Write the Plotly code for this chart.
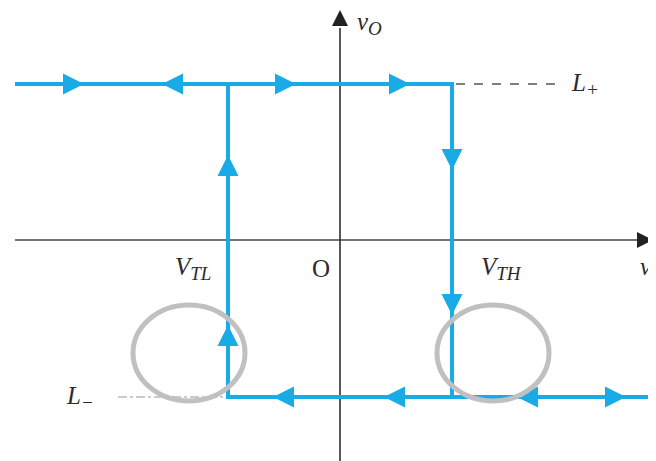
import plotly.graph_objects as go

# Пороги и уровни выхода (единицы = пиксели относительно начала координат)
V_TL = -112
V_TH = 112
L_PLUS = 156
L_MINUS = -157

X_LEFT = -325
X_RIGHT = 316
Y_TOP = 230
Y_BOTTOM = -229

# Стрелки направления обхода
top_arrows_x = [-256, -178, -44, 70]
top_arrows_dir = ["right", "left", "right", "right"]
bottom_arrows_x = [-67, 44, 177, 286]
bottom_arrows_dir = ["left", "left", "left", "right"]
left_up_y = [85, -85]
right_down_y = [70, -75]

# Выделенные области (серые кольца): центры и радиусы
ring_cx = [-151, 153]
ring_cy = [-113, -113]
ring_rx = [56, 56]
ring_ry = [48, 48]

BLUE = "#18abe6"
INK = "#2b2b2b"
SERIF = "Liberation Serif, Times New Roman, serif"


def lbl(main, sub=""):
    if not sub:
        return f"<i>{main}</i>"
    return f"<i>{main}<sub><span style='font-size:19px'>{sub}</span></sub></i>"


fig = go.Figure()

# оси
fig.add_trace(go.Scatter(x=[X_LEFT, X_RIGHT - 18], y=[0, 0], mode="lines",
                         line=dict(color="#444", width=1.5), hoverinfo="skip"))
fig.add_trace(go.Scatter(x=[0, 0], y=[Y_BOTTOM, Y_TOP - 18], mode="lines",
                         line=dict(color="#222", width=1.5), hoverinfo="skip"))
fig.add_trace(go.Scatter(x=[X_RIGHT - 3], y=[0], mode="markers",
                         marker=dict(symbol="arrow-right", size=16, color="#222"),
                         hoverinfo="skip"))
fig.add_trace(go.Scatter(x=[0], y=[Y_TOP], mode="markers",
                         marker=dict(symbol="arrow-up", size=16, color="#222"),
                         hoverinfo="skip"))

# пунктирные продолжения уровней
fig.add_trace(go.Scatter(x=[V_TH + 4, 219], y=[L_PLUS, L_PLUS], mode="lines",
                         line=dict(color="#555", width=1.5, dash="dash"), hoverinfo="skip"))
fig.add_trace(go.Scatter(x=[-222, V_TL - 2], y=[L_MINUS, L_MINUS], mode="lines",
                         line=dict(color="#bbb", width=1.5, dash="dashdot"), hoverinfo="skip"))

# петля гистерезиса
fig.add_trace(go.Scatter(x=[X_LEFT, V_TH, V_TH], y=[L_PLUS, L_PLUS, L_MINUS], mode="lines",
                         line=dict(color=BLUE, width=4), hoverinfo="skip"))
fig.add_trace(go.Scatter(x=[V_TL, V_TL, X_RIGHT + 10], y=[L_PLUS, L_MINUS, L_MINUS], mode="lines",
                         line=dict(color=BLUE, width=4), hoverinfo="skip"))

arr_x = (top_arrows_x + bottom_arrows_x + [V_TL] * len(left_up_y) + [V_TH] * len(right_down_y))
arr_y = ([L_PLUS] * len(top_arrows_x) + [L_MINUS] * len(bottom_arrows_x) + left_up_y + right_down_y)
arr_sym = (["arrow-" + d for d in top_arrows_dir] + ["arrow-" + d for d in bottom_arrows_dir]
           + ["arrow-up"] * len(left_up_y) + ["arrow-down"] * len(right_down_y))
fig.add_trace(go.Scatter(x=arr_x, y=arr_y, mode="markers",
                         marker=dict(symbol=arr_sym, size=21, color=BLUE,
                                     line=dict(width=0)),
                         hoverinfo="skip"))

# серые кольца
for cx, cy, rx, ry in zip(ring_cx, ring_cy, ring_rx, ring_ry):
    fig.add_shape(type="circle", xref="x", yref="y",
                  x0=cx - rx, x1=cx + rx, y0=cy - ry, y1=cy + ry,
                  line=dict(color="#c0c0c0", width=5))

labels = [
    (15, 217, lbl("v", "O"), "left"),
    (229, L_PLUS, lbl("L", "+"), "left"),
    (-276, L_MINUS, lbl("L", "−"), "left"),
    (-127, -28, lbl("V", "TL"), "right"),
    (-8, -28, "O", "right"),
    (139, -28, lbl("V", "TH"), "left"),
    (298, -28, lbl("v", "I"), "left"),
]
for x, y, t, xa in labels:
    fig.add_annotation(x=x, y=y, text=t, showarrow=False, xanchor=xa,
                       font=dict(family=SERIF, size=25, color=INK))

# страница добавляет отступ 8 px, поэтому диапазоны сдвинуты на 8 px
fig.update_layout(
    width=656, height=461, showlegend=False,
    margin=dict(t=0, b=0, l=0, r=0),
    plot_bgcolor="white", paper_bgcolor="white",
    xaxis=dict(range=[-332, 324], visible=False, fixedrange=True),
    yaxis=dict(range=[-229, 232], visible=False, fixedrange=True),
)

fig.write_html("out.html")
